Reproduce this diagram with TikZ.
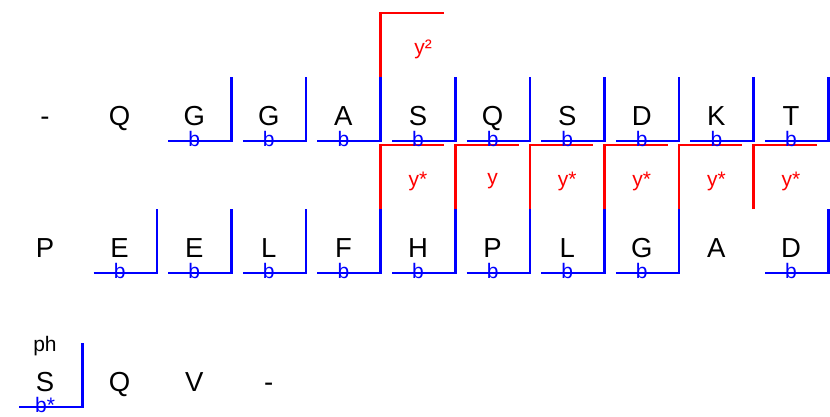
\documentclass[tikz,border=0pt]{standalone}
\usepackage{fontspec}
\setmainfont{Liberation Sans}
\usetikzlibrary{calc}
\definecolor{ionblue}{RGB}{0,0,255}
\definecolor{ionred}{RGB}{255,0,0}
\tikzset{
  aa/.style={anchor=base,inner sep=0pt,font=\fontsize{27.5}{30}\selectfont,text=black},
  blab/.style={anchor=base,inner sep=0pt,font=\fontsize{21}{23}\selectfont,text=ionblue},
  rlab/.style={anchor=center,inner sep=0pt,font=\fontsize{21}{23}\selectfont,text=ionred},
  klab/.style={anchor=base,inner sep=0pt,font=\fontsize{21}{23}\selectfont,text=black},
  bl/.style={draw=ionblue,line width=2.5pt,line join=miter},
  rd/.style={draw=ionred,line width=2.5pt,line join=miter}
}
\newcommand\bion[3]{%
  \draw[bl] (#1-26,#2+26) -- (#1+37.3,#2+26) -- (#1+37.3,#2-38);
  \node[blab] at (#1,#2+31.5) {#3};}
\newcommand\yion[4]{% cx, cy, label, label x offset
  \draw[rd] (#1-37.3,#2-38) -- (#1-37.3,#2-102) -- (#1+26,#2-102);
  \node[rlab] at (#1+#4,#2-66) {#3};}
\begin{document}
\begin{tikzpicture}[x=1pt,y=-1pt]
\useasboundingbox (0,0) rectangle (830,416);
% row 1
\foreach \t [count=\i from 0] in {-,Q,G,G,A,S,Q,S,D,K,T}{
  \node[aa] (ra\i) at (45+74.6*\i,125) {\t};}
% row 2
\foreach \t [count=\i from 0] in {P,E,E,L,F,H,P,L,G,A,D}{
  \node[aa] (rb\i) at (45+74.6*\i,257) {\t};}
% row 3
\foreach \t [count=\i from 0] in {S,Q,V,-}{
  \node[aa] (rc\i) at (45+74.6*\i,391) {\t};}
% red y ions
\yion{418}{115}{y²}{5}
\foreach \i/\l in {5/y*,6/y,7/y*,8/y*,9/y*,10/y*}{
  \yion{45+74.6*\i}{247}{\l}{0}}
% blue b ions
\foreach \i in {2,...,10}{\bion{45+74.6*\i}{115}{b}}
\foreach \i in {1,...,8,10}{\bion{45+74.6*\i}{247}{b}}
\bion{45}{381}{b*}
\node[klab] (ph) at (45,351) {ph};
\end{tikzpicture}
\end{document}
